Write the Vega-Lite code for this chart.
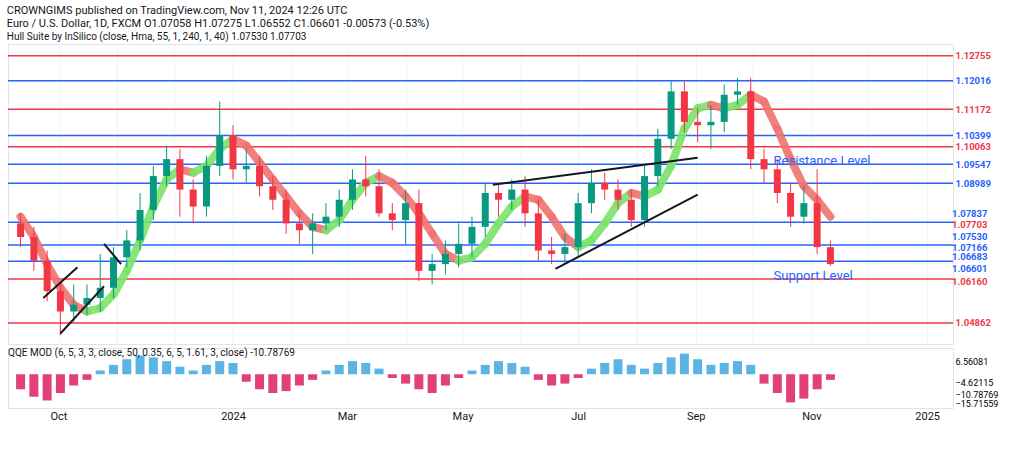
{
  "$schema": "https://vega.github.io/schema/vega-lite/v6.json",
  "background": "white",
  "padding": {"left": 6, "top": 4, "right": 4, "bottom": 4},
  "config": {"font": "Roboto", "view": {"stroke": "#e0e3eb"}, "concat": {"spacing": 2}, "axis": {"labelOverlap": false}},
  "title": {
    "text": ["CROWNGIMS published on TradingView.com, Nov 11, 2024 12:26 UTC", "Euro / U.S. Dollar, 1D, FXCM  O1.07058  H1.07275  L1.06552  C1.06601  -0.00573 (-0.53%)"],
    "subtitle": "Hull Suite by InSilico (close, Hma, 55, 1, 240, 1, 40)  1.07530  1.07703",
    "anchor": "start", "fontSize": 11, "fontWeight": "normal", "color": "#131722",
    "subtitleFontSize": 10, "subtitleColor": "#131722", "offset": 2
  },
  "datasets": {
    "px": [
      {"d":"2023-09-11","o":1.078,"h":1.081,"l":1.071,"c":1.074,"hull":1.080,"q":-8},
      {"d":"2023-09-18","o":1.074,"h":1.077,"l":1.064,"c":1.067,"hull":1.074,"q":-12},
      {"d":"2023-09-25","o":1.067,"h":1.070,"l":1.055,"c":1.058,"hull":1.066,"q":-14},
      {"d":"2023-10-02","o":1.058,"h":1.061,"l":1.045,"c":1.052,"hull":1.059,"q":-10},
      {"d":"2023-10-09","o":1.052,"h":1.060,"l":1.049,"c":1.054,"hull":1.054,"q":-6},
      {"d":"2023-10-16","o":1.054,"h":1.060,"l":1.051,"c":1.056,"hull":1.052,"q":-3},
      {"d":"2023-10-23","o":1.056,"h":1.069,"l":1.052,"c":1.059,"hull":1.053,"q":2},
      {"d":"2023-10-30","o":1.059,"h":1.071,"l":1.056,"c":1.068,"hull":1.057,"q":5},
      {"d":"2023-11-06","o":1.068,"h":1.076,"l":1.065,"c":1.073,"hull":1.064,"q":8},
      {"d":"2023-11-13","o":1.073,"h":1.087,"l":1.070,"c":1.082,"hull":1.073,"q":10},
      {"d":"2023-11-20","o":1.082,"h":1.095,"l":1.079,"c":1.092,"hull":1.083,"q":9},
      {"d":"2023-11-27","o":1.092,"h":1.101,"l":1.089,"c":1.097,"hull":1.091,"q":7},
      {"d":"2023-12-04","o":1.097,"h":1.100,"l":1.080,"c":1.088,"hull":1.094,"q":4},
      {"d":"2023-12-11","o":1.088,"h":1.091,"l":1.078,"c":1.083,"hull":1.093,"q":2},
      {"d":"2023-12-18","o":1.083,"h":1.098,"l":1.080,"c":1.095,"hull":1.095,"q":5},
      {"d":"2023-12-25","o":1.095,"h":1.114,"l":1.092,"c":1.104,"hull":1.100,"q":7},
      {"d":"2024-01-01","o":1.104,"h":1.107,"l":1.091,"c":1.094,"hull":1.103,"q":6},
      {"d":"2024-01-08","o":1.094,"h":1.100,"l":1.090,"c":1.095,"hull":1.101,"q":-4},
      {"d":"2024-01-15","o":1.095,"h":1.098,"l":1.086,"c":1.089,"hull":1.096,"q":-8},
      {"d":"2024-01-22","o":1.089,"h":1.092,"l":1.082,"c":1.085,"hull":1.091,"q":-10},
      {"d":"2024-01-29","o":1.085,"h":1.088,"l":1.075,"c":1.078,"hull":1.086,"q":-9},
      {"d":"2024-02-05","o":1.078,"h":1.081,"l":1.072,"c":1.076,"hull":1.081,"q":-6},
      {"d":"2024-02-12","o":1.076,"h":1.081,"l":1.069,"c":1.078,"hull":1.077,"q":-3},
      {"d":"2024-02-19","o":1.078,"h":1.084,"l":1.076,"c":1.080,"hull":1.076,"q":2},
      {"d":"2024-02-26","o":1.080,"h":1.088,"l":1.077,"c":1.085,"hull":1.079,"q":5},
      {"d":"2024-03-04","o":1.085,"h":1.094,"l":1.082,"c":1.091,"hull":1.085,"q":7},
      {"d":"2024-03-11","o":1.091,"h":1.098,"l":1.086,"c":1.089,"hull":1.090,"q":6},
      {"d":"2024-03-18","o":1.089,"h":1.094,"l":1.080,"c":1.081,"hull":1.092,"q":3},
      {"d":"2024-03-25","o":1.081,"h":1.084,"l":1.076,"c":1.079,"hull":1.090,"q":-2},
      {"d":"2024-04-01","o":1.079,"h":1.088,"l":1.072,"c":1.084,"hull":1.086,"q":-5},
      {"d":"2024-04-08","o":1.084,"h":1.088,"l":1.061,"c":1.064,"hull":1.081,"q":-8},
      {"d":"2024-04-15","o":1.064,"h":1.069,"l":1.060,"c":1.066,"hull":1.075,"q":-10},
      {"d":"2024-04-22","o":1.066,"h":1.073,"l":1.063,"c":1.069,"hull":1.069,"q":-6},
      {"d":"2024-04-29","o":1.069,"h":1.078,"l":1.065,"c":1.072,"hull":1.067,"q":-2},
      {"d":"2024-05-06","o":1.072,"h":1.080,"l":1.068,"c":1.077,"hull":1.068,"q":2},
      {"d":"2024-05-13","o":1.077,"h":1.090,"l":1.074,"c":1.087,"hull":1.072,"q":5},
      {"d":"2024-05-20","o":1.087,"h":1.090,"l":1.080,"c":1.085,"hull":1.078,"q":7},
      {"d":"2024-05-27","o":1.085,"h":1.091,"l":1.082,"c":1.088,"hull":1.083,"q":6},
      {"d":"2024-06-03","o":1.088,"h":1.092,"l":1.077,"c":1.081,"hull":1.086,"q":4},
      {"d":"2024-06-10","o":1.081,"h":1.085,"l":1.067,"c":1.070,"hull":1.085,"q":-3},
      {"d":"2024-06-17","o":1.070,"h":1.074,"l":1.066,"c":1.069,"hull":1.080,"q":-6},
      {"d":"2024-06-24","o":1.069,"h":1.075,"l":1.066,"c":1.071,"hull":1.074,"q":-5},
      {"d":"2024-07-01","o":1.071,"h":1.087,"l":1.068,"c":1.084,"hull":1.071,"q":-2},
      {"d":"2024-07-08","o":1.084,"h":1.094,"l":1.081,"c":1.090,"hull":1.073,"q":3},
      {"d":"2024-07-15","o":1.090,"h":1.093,"l":1.085,"c":1.088,"hull":1.078,"q":6},
      {"d":"2024-07-22","o":1.088,"h":1.091,"l":1.082,"c":1.085,"hull":1.084,"q":8},
      {"d":"2024-07-29","o":1.085,"h":1.088,"l":1.077,"c":1.079,"hull":1.087,"q":5},
      {"d":"2024-08-05","o":1.079,"h":1.095,"l":1.077,"c":1.092,"hull":1.086,"q":3},
      {"d":"2024-08-12","o":1.092,"h":1.106,"l":1.089,"c":1.103,"hull":1.088,"q":6},
      {"d":"2024-08-19","o":1.103,"h":1.120,"l":1.100,"c":1.117,"hull":1.095,"q":9},
      {"d":"2024-08-26","o":1.117,"h":1.120,"l":1.105,"c":1.108,"hull":1.106,"q":11},
      {"d":"2024-09-02","o":1.108,"h":1.112,"l":1.102,"c":1.107,"hull":1.112,"q":8},
      {"d":"2024-09-09","o":1.107,"h":1.113,"l":1.100,"c":1.108,"hull":1.113,"q":5},
      {"d":"2024-09-16","o":1.108,"h":1.119,"l":1.105,"c":1.116,"hull":1.112,"q":6},
      {"d":"2024-09-23","o":1.116,"h":1.121,"l":1.113,"c":1.117,"hull":1.113,"q":7},
      {"d":"2024-09-30","o":1.117,"h":1.121,"l":1.094,"c":1.097,"hull":1.116,"q":5},
      {"d":"2024-10-07","o":1.097,"h":1.100,"l":1.090,"c":1.094,"hull":1.114,"q":-5},
      {"d":"2024-10-14","o":1.094,"h":1.097,"l":1.084,"c":1.087,"hull":1.106,"q":-10},
      {"d":"2024-10-21","o":1.087,"h":1.090,"l":1.077,"c":1.080,"hull":1.097,"q":-15},
      {"d":"2024-10-28","o":1.080,"h":1.089,"l":1.078,"c":1.084,"hull":1.089,"q":-13},
      {"d":"2024-11-04","o":1.084,"h":1.094,"l":1.069,"c":1.071,"hull":1.085,"q":-8},
      {"d":"2024-11-11","o":1.071,"h":1.073,"l":1.0655,"c":1.066,"hull":1.080,"q":-3}
    ],
    "levels": [
      {"v":1.12755,"k":"r"},{"v":1.12016,"k":"b"},{"v":1.11172,"k":"r"},{"v":1.10399,"k":"b"},
      {"v":1.10063,"k":"r"},{"v":1.09547,"k":"b"},{"v":1.08989,"k":"b"},{"v":1.07837,"k":"b"},
      {"v":1.07166,"k":"b"},{"v":1.06683,"k":"b"},{"v":1.06160,"k":"r"},{"v":1.04862,"k":"r"}
    ],
    "tags": [
      {"t":"1.07837","ly":1.08073,"k":"b"},
      {"t":"1.07703","ly":1.07747,"k":"r"},
      {"t":"1.07530","ly":1.07412,"k":"b"},
      {"t":"1.07166","ly":1.07077,"k":"b"},
      {"t":"1.06683","ly":1.06801,"k":"b"},
      {"t":"1.06601","ly":1.06453,"k":"b"},
      {"t":"1.06160","ly":1.06071,"k":"r"}
    ],
    "trend": [
      {"d1":"2024-05-17","p1":1.0894,"d2":"2024-09-02","p2":1.0974},
      {"d1":"2024-06-19","p1":1.0646,"d2":"2024-09-02","p2":1.0865},
      {"d1":"2023-09-23","p1":1.0560,"d2":"2023-10-11","p2":1.0651},
      {"d1":"2023-10-02","p1":1.0455,"d2":"2023-10-25","p2":1.0595},
      {"d1":"2023-10-25","p1":1.0720,"d2":"2023-11-03","p2":1.0660}
    ],
    "notes": [
      {"d":"2024-10-12","p":1.0965,"t":"Resistance Level"},
      {"d":"2024-10-12","p":1.0625,"t":"Support Level"}
    ]
  },
  "vconcat": [
    {
      "width": 945,
      "height": 300,
      "encoding": {
        "y": {"type": "quantitative", "scale": {"domain": [1.0424, 1.131], "nice": false, "zero": false},
          "axis": {"orient": "right", "title": null, "values": [1.12755,1.12016,1.11172,1.10399,1.10063,1.09547,1.08989,1.04862],
            "format": ".5f", "grid": false, "ticks": false, "domain": false, "labelFontSize": 9.5, "labelOverlap": false, "labelFontWeight": "bold",
            "labelColor": {"expr": "indexof([1.12755,1.11172,1.10063,1.04862], datum.value) >= 0 ? '#f23645' : '#2962ff'"}}}
      },
      "layer": [
        {
          "data": {"name": "levels"},
          "mark": {"type": "rule", "strokeWidth": 1.5},
          "encoding": {
            "y": {"field": "v", "type": "quantitative"},
            "color": {"field": "k", "type": "nominal", "scale": {"domain": ["r","b"], "range": ["#f23645","#2962ff"]}, "legend": null}
          }
        },
        {
          "data": {"name": "tags"},
          "mark": {"type": "text", "align": "left", "dx": 4, "fontSize": 9.5, "fontWeight": "bold", "clip": false},
          "encoding": {
            "x": {"datum": {"year": 2025, "month": 1, "date": 12}, "type": "temporal"},
            "y": {"field": "ly", "type": "quantitative"},
            "text": {"field": "t"},
            "color": {"field": "k", "type": "nominal", "legend": null}
          }
        },
        {
          "data": {"name": "px"},
          "transform": [{"window": [{"op": "lead", "field": "hull", "as": "hn"}, {"op": "lead", "field": "d", "as": "dn"}], "sort": [{"field": "d"}]}, {"filter": "datum.hn != null"}],
          "mark": {"type": "rule", "strokeWidth": 8, "strokeCap": "round", "opacity": 0.9},
          "encoding": {
            "x": {"field": "d", "type": "temporal"},
            "x2": {"field": "dn"},
            "y": {"field": "hull", "type": "quantitative"},
            "y2": {"field": "hn"},
            "color": {"condition": {"test": "datum.hn >= datum.hull", "value": "#7be36a"}, "value": "#f0736f"}
          }
        },
        {
          "data": {"name": "px"},
          "mark": {"type": "rule", "strokeWidth": 1},
          "encoding": {
            "x": {"field": "d", "type": "temporal", "scale": {"domain": ["2023-09-07", "2025-01-12"]},
              "axis": {"title": null, "labels": false, "ticks": false, "domain": false, "grid": true, "gridColor": "#f0f3fa", "tickCount": "month"}},
            "y": {"field": "l", "type": "quantitative"},
            "y2": {"field": "h"},
            "color": {"condition": {"test": "datum.c >= datum.o", "value": "#089981"}, "value": "#f23645"}
          }
        },
        {
          "data": {"name": "px"},
          "mark": {"type": "bar", "size": 7},
          "encoding": {
            "x": {"field": "d", "type": "temporal"},
            "y": {"field": "o", "type": "quantitative"},
            "y2": {"field": "c"},
            "color": {"condition": {"test": "datum.c >= datum.o", "value": "#089981"}, "value": "#f23645"}
          }
        },
        {
          "data": {"name": "trend"},
          "mark": {"type": "rule", "strokeWidth": 2, "color": "#131722"},
          "encoding": {
            "x": {"field": "d1", "type": "temporal"}, "x2": {"field": "d2"},
            "y": {"field": "p1", "type": "quantitative"}, "y2": {"field": "p2"}
          }
        },
        {
          "data": {"name": "notes"},
          "mark": {"type": "text", "fontSize": 13, "color": "#2962ff", "align": "left"},
          "encoding": {
            "x": {"field": "d", "type": "temporal"},
            "y": {"field": "p", "type": "quantitative"},
            "text": {"field": "t"}
          }
        }
      ]
    },
    {
      "width": 945,
      "height": 60,
      "title": {"text": "QQE MOD (6, 5, 3, 3, close, 50, 0.35, 6, 5, 1.61, 3, close)   -10.78769", "fontSize": 10, "fontWeight": "normal", "anchor": "start", "color": "#131722", "offset": -10},
      "data": {"name": "px"},
      "mark": {"type": "bar", "size": 9},
      "encoding": {
        "x": {"field": "d", "type": "temporal", "scale": {"domain": ["2023-09-07", "2025-01-12"]},
          "axis": {"title": null, "labelExpr": "month(datum.value) == 0 ? timeFormat(datum.value, '%Y') : timeFormat(datum.value, '%b')", "values": ["2023-10-01","2024-01-01","2024-03-01","2024-05-01","2024-07-01","2024-09-01","2024-11-01","2025-01-01"], "grid": false, "ticks": false, "domain": false, "labelColor": "#131722", "labelFontSize": 11}},
        "y": {"field": "q", "type": "quantitative", "scale": {"domain": [-18, 14]},
          "axis": {"orient": "right", "title": null, "values": [6.56081, -4.62115, -10.78769, -15.71559], "format": ".5f", "grid": false, "ticks": false, "domain": false, "labelFontSize": 9, "labelOverlap": false}},
        "color": {"condition": {"test": "datum.q >= 0", "value": "#5ab4e6"}, "value": "#e0417a"}
      }
    }
  ]
}
